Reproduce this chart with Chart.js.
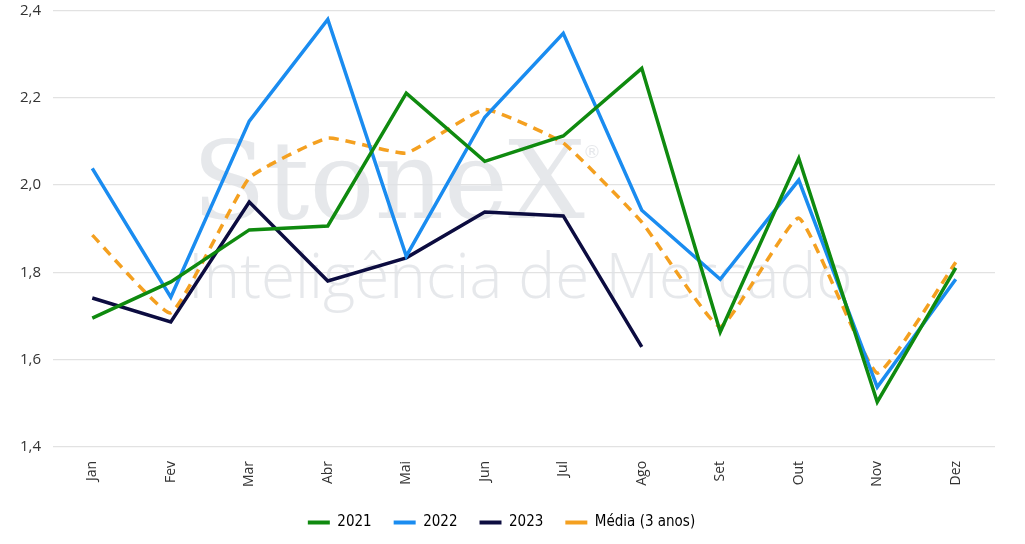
<!DOCTYPE html>
<html><head><meta charset="utf-8">
<script src="https://cdn.jsdelivr.net/npm/chart.js@4"></script>
<style>html,body{margin:0;padding:0;background:#fff;overflow:hidden}#wrap{width:1025px;height:544px;overflow:hidden;position:relative}#c{position:absolute;left:0;top:-4px}</style>
</head><body><div id="wrap"><canvas id="c" width="1025" height="548"></canvas></div>
<script>
const categories = ["Jan","Fev","Mar","Abr","Mai","Jun","Jul","Ago","Set","Out","Nov","Dez"];
const s2021 = [1.695,1.778,1.897,1.906,2.210,2.054,2.112,2.267,1.663,2.061,1.503,1.810];
const s2022 = [2.038,1.743,2.146,2.379,1.837,2.155,2.347,1.942,1.784,2.011,1.537,1.784];
const s2023 = [1.741,1.686,1.961,1.780,1.833,1.938,1.929,1.629,null,null,null,null];
const media = [1.885,1.707,2.016,2.107,2.073,2.173,2.096,1.915,1.675,1.924,1.569,1.823];
const seriesLabels = ["2021","2022","2023","Média (3 anos)"];

const watermark = {
  id:'watermark',
  beforeDatasetsDraw(chart){
    const ctx = chart.ctx;
    ctx.save();
    ctx.fillStyle = 'rgba(224,226,230,0.8)';
    ctx.textBaseline = 'alphabetic';
    ctx.font = '108px "DejaVu Serif", serif';
    ctx.fillText('StoneX', 192, 222);
    ctx.font = '18px "DejaVu Sans", sans-serif';
    ctx.fillText('®', 583, 162);
    ctx.font = '300 62px "Open Sans", "Lato", sans-serif';
    ctx.fillText('Inteligência de Mercado', 188, 302);
    ctx.restore();
  }
};

new Chart(document.getElementById('c'), {
  type:'line',
  data:{
    labels:categories,
    datasets:[
      {label:seriesLabels[0], data:s2021, borderColor:'#0f8a0f', backgroundColor:'#0f8a0f', borderWidth:3.5, pointRadius:0, tension:0},
      {label:seriesLabels[1], data:s2022, borderColor:'#1a8cf0', backgroundColor:'#1a8cf0', borderWidth:3.5, pointRadius:0, tension:0},
      {label:seriesLabels[2], data:s2023, borderColor:'#0c0c40', backgroundColor:'#0c0c40', borderWidth:3.5, pointRadius:0, tension:0},
      {label:seriesLabels[3], data:media, borderColor:'#f4a020', backgroundColor:'#f4a020', borderWidth:3.5, borderDash:[10,7], pointRadius:0, tension:0.12}
    ]
  },
  options:{
    responsive:false, animation:false,
    layout:{padding:{left:8,right:30,top:6,bottom:4}},
    plugins:{
      legend:{position:'bottom', labels:{usePointStyle:false, boxWidth:22, boxHeight:4, padding:22, color:'#333', font:{family:'"DejaVu Sans Condensed","Liberation Sans Narrow", sans-serif', size:15},
        generateLabels(chart){
          return chart.data.datasets.map((d,i)=>({text:d.label, fillStyle:d.borderColor, strokeStyle:d.borderColor, lineWidth:0, datasetIndex:i, hidden:false}));
        }}},
      tooltip:{enabled:false}
    },
    scales:{
      x:{offset:true, grid:{display:false}, border:{display:false},
        ticks:{maxRotation:90, minRotation:90, color:'#333', font:{family:'"Open Sans", sans-serif', size:14}, padding:6}},
      y:{min:1.4, max:2.4, border:{display:false},
        grid:{color:'#e2e2e2', lineWidth:1.2, drawTicks:false},
        ticks:{stepSize:0.2, padding:12, color:'#333', font:{family:'"Open Sans", sans-serif', size:15, lineHeight:0.3},
          callback:v=>v.toFixed(1).replace('.',',')}}
    }
  },
  plugins:[watermark]
});
</script></body></html>
